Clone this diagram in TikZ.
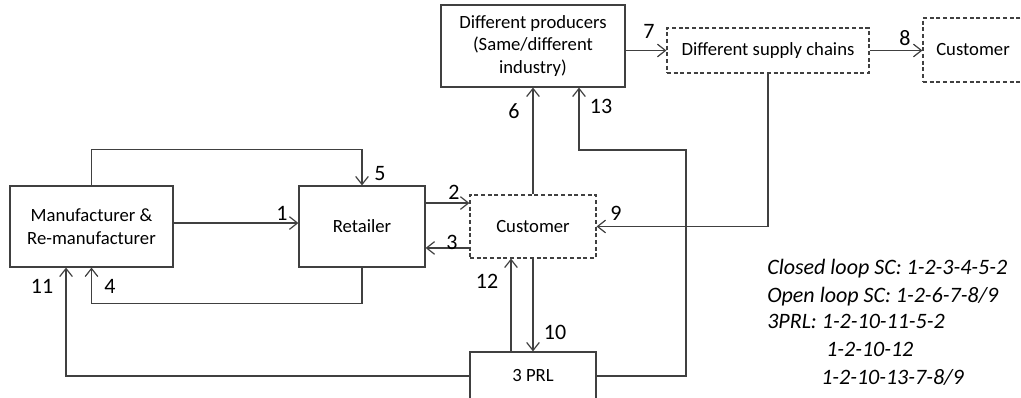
\documentclass[tikz,border=0pt]{standalone}
\usepackage{fontspec}
\setmainfont{Carlito}
\usetikzlibrary{positioning,arrows.meta,calc}
\definecolor{LineGray}{HTML}{404040}

\begin{document}
\begin{tikzpicture}[x=0.75pt,y=-0.75pt, every node/.style={font=\fontsize{14}{17}\selectfont},
  box/.style={draw=LineGray,line width=0.9pt,align=center,inner sep=0pt},
  dbox/.style={box,dash pattern=on 3pt off 2pt},
  arr/.style={-{Straight Barb[length=6pt,width=9.5pt]},draw=LineGray,line width=0.9pt},
  num/.style={font=\fontsize{16.5}{20}\selectfont,inner sep=0pt},
  legend/.style={font=\fontsize{16.5}{20}\selectfont\itshape,anchor=base west,inner sep=0pt}]
\useasboundingbox (0,0) rectangle (1021,398);
\clip (0,0) rectangle (1021,398);
% boxes
\node[box,minimum width=122.25pt,minimum height=60.75pt] (manu) at (91.5,226.5) {Manufacturer \&\\Re-manufacturer};
\node[box,minimum width=94.5pt,minimum height=60.75pt] (ret) at (362,226.5) {Retailer};
\node[dbox,minimum width=94.5pt,minimum height=47.25pt] (cust) at (533,226.5) {Customer};
\node[box,minimum width=94.5pt,minimum height=36pt] (prl) at (533,376) {3 PRL};
\node[box,minimum width=138pt,minimum height=61.5pt] (prod) at (533,46) {Different producers\\(Same/different\\industry)};
\node[dbox,minimum width=151.5pt,minimum height=33.75pt] (sup) at (768,50.5) {Different supply chains};
\node[dbox,minimum width=75pt,minimum height=48pt] (ecust) at (973,50) {Customer};
\coordinate (c13) at (686,150);
% flows
\draw[arr] ([yshift=2.6pt]manu.east) -- ([yshift=2.6pt]ret.west);
\draw[arr] ([yshift=17.6pt]ret.east) -- ([yshift=17.6pt]cust.west);
\draw[arr] ([yshift=-16.1pt]cust.west) -- ([yshift=-16.1pt]ret.east);
\draw[arr] (ret.south) -- ++(0,36) -| (manu.south);
\draw[arr] (manu.north) |- ($(ret.north)+(0,-36)$) -- (ret.north);
\draw[arr] (cust.north) -- (prod.south);
\draw[arr] (prod.east |- sup.west) -- (sup.west);
\draw[arr] (sup.east) -- (ecust.west |- sup.east);
\draw[arr] (sup.south) |- (cust.east);
\draw[arr] (cust.south) -- (prl.north);
\draw[arr] (prl.west) -| ([xshift=-19.1pt]manu.south);
\draw[arr] ([xshift=-16.5pt]prl.north) -- ([xshift=-16.5pt]cust.south);
\draw[arr] (prl.east) -| (c13) -| ([xshift=34.5pt]prod.south);
% numbers
\node[num] (n1) at (282,213) {1};
\node[num] (n2) at (454,192) {2};
\node[num] (n3) at (452,242) {3};
\node[num] (n4) at (110,286) {4};
\node[num] (n5) at (380,174) {5};
\node[num] (n6) at (514,111) {6};
\node[num] (n7) at (649,31) {7};
\node[num] (n8) at (905,38) {8};
\node[num] (n9) at (616,213) {9};
\node[num] (n10) at (555,332) {10};
\node[num] (n11) at (42,286) {11};
\node[num] (n12) at (487,281) {12};
\node[num] (n13) at (601,106) {13};
% legend
\node[legend] (lg1) at (767,275) {Closed loop SC: 1-2-3-4-5-2};
\node[legend] (lg2) at (767,302.5) {Open loop SC: 1-2-6-7-8/9};
\node[legend] (lg3) at (767,328.5) {3PRL: 1-2-10-11-5-2};
\node[legend] (lg4) at (826,356.5) {1-2-10-12};
\node[legend] (lg5) at (821,385) {1-2-10-13-7-8/9};
\end{tikzpicture}
\end{document}
